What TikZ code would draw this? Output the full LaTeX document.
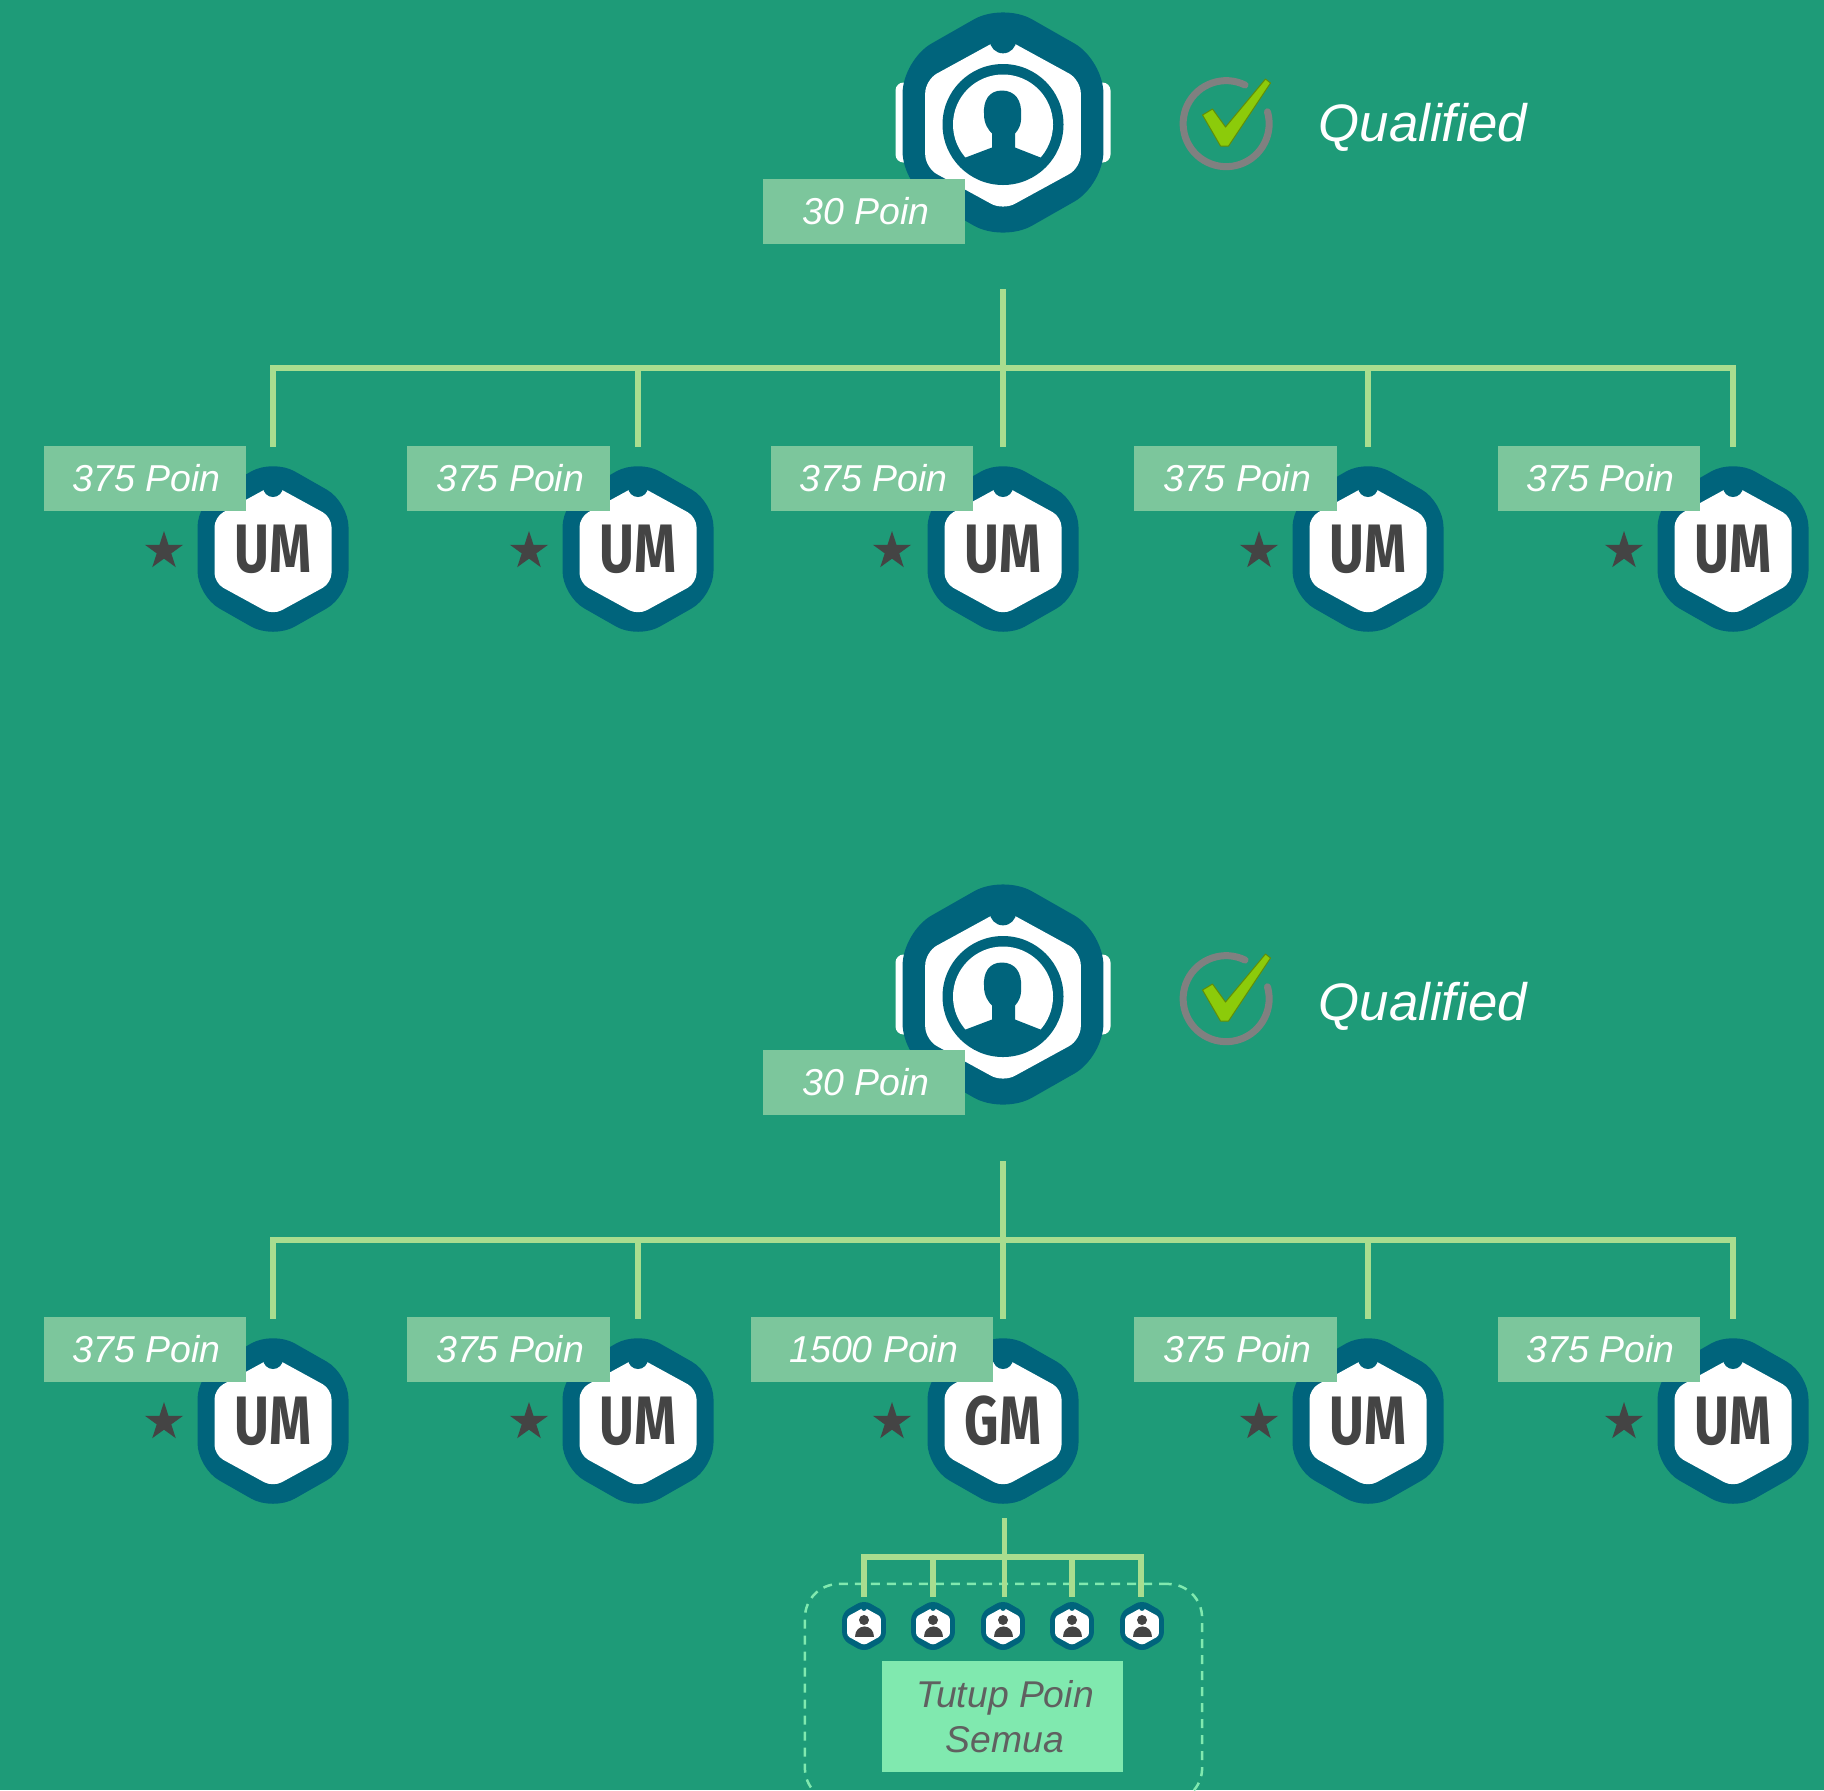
\documentclass[tikz,border=0pt]{standalone}
\usepackage{fontspec}
\setmainfont{Liberation Sans}
\newfontfamily\badgefont{Fira Sans}
\usetikzlibrary{shapes.geometric,positioning,calc}
\definecolor{bgteal}{HTML}{1E9B78}
\definecolor{hexteal}{HTML}{00647C}
\definecolor{poingreen}{HTML}{7CC69C}
\definecolor{tutupgreen}{HTML}{80E9AF}
\definecolor{linegreen}{HTML}{A9DD8F}
\definecolor{darkgrey}{HTML}{444444}
\definecolor{tickgreen}{HTML}{8CCB0A}
\begin{document}
\begin{tikzpicture}
	[ x=0.01cm, y=-0.01cm,
	  conn/.style={ draw=linegreen, line width=0.052cm },
	  poin/.style={ fill=poingreen, text=white, inner sep=0pt, minimum width=2.02cm, minimum height=0.65cm,
	  execute at begin node=\hspace*{0.035cm},
	  font=\fontsize{10.65}{13}\selectfont\itshape },
	  qual/.style={ text=white, inner sep=0pt, anchor=base west, font=\fontsize{15}{18}\selectfont\itshape },
	  rank/.style={ text=darkgrey, inner sep=0pt, xscale=0.78, transform shape, font=\fontsize{19.5}{20}\badgefont\bfseries },
	  starmark/.style={ star, star points=5, star point ratio=2.618, fill=darkgrey, inner sep=0pt, minimum size=0.4cm },
	  pics/badge/.style={ code={
		\begin{scope}[scale=#1]
		\fill[hexteal, rounded corners=#1*0.25cm] (0,-90) -- (75.5,-47) -- (75.5,47) -- (0,90) -- (-75.5,47) -- (-75.5,-47) -- cycle;
		\fill[white, rounded corners=#1*0.1cm] (0,-64) -- (58.5,-32) -- (58.5,34) -- (0,66) -- (-58.5,34) -- (-58.5,-32) -- cycle;
		\fill[hexteal] (0,-62) circle (10);
		\end{scope}
	  }},
	  pics/bossbadge/.style={ code={
		\fill[white, rounded corners=0.08cm] (-107.5,-40) rectangle (107.5,40);
		\pic {badge=1.33};
		\fill[hexteal] (0,2) circle (60.5);
		\fill[white] (0,2) circle (50);
		\fill[hexteal] (-1,-32) .. controls (-14,-32) and (-20,-22) .. (-19,-8) .. controls (-19,2) and (-14,8) .. (-11,11)
			-- (12,11) .. controls (15,8) and (19,2) .. (18,-8) .. controls (19,-22) and (12,-32) .. (-1,-32) -- cycle;
		\fill[hexteal] (-40,36) -- (-11,25) -- (-11,5) -- (12,5) -- (12,25) -- (40,36) -- (36,50) -- (0,58) -- (-36,50) -- cycle;
	  }},
	  pics/tinybadge/.style={ code={
		\pic {badge=0.29};
		\fill[darkgrey] (0,-6) circle (5);
		\fill[darkgrey] (-9.5,11) .. controls (-9.5,-3) and (9.5,-3) .. (9.5,11) -- cycle;
	  }},
	  pics/qualmark/.style={ code={
		\draw[gray, line width=0.07cm, line cap=round] (18.5,-38) arc (-64:-376:43);
		\fill[tickgreen, draw=tickgreen!70!black, line width=0.01cm, line join=round] (-24,-8) -- (-14,-14) -- (-1,4) -- (39,-44) -- (44,-40) -- (2,23) -- (-6,23) -- cycle;
	  }}
	]
	\clip (0,0) rectangle (1824,1790);
	\fill[bgteal] (0,0) rectangle (1824,1790);

	% both trees
	\foreach \g/\dy/\dl/\dm/\dq in {a/0/0/0/0,b/872/871/875/879}{
		\pic (boss\g) at (1003,122.5+\dy) {bossbadge};
		\pic (mark\g) at (1226.5,123+\dm) {qualmark};
		\node[qual] (qual\g) at (1318,141.5+\dq) {Qualified};
		\node[poin] (bossp\g) at (864,211.5+\dl) {30 Poin};

		\coordinate (root\g) at (1003,289+\dy);
		\coordinate (bus\g) at (1003,368+\dy);
		\coordinate (drop\g3) at (1003,447+\dy);
		\draw[conn] (root\g) -- (drop\g3);
		\foreach \c/\xc/\xp in {1/273/145,2/638/508.5,4/1368/1235.5,5/1733/1599}{
			\coordinate (drop\g\c) at (\xc,447+\dy);
			\draw[conn] (bus\g) -| (drop\g\c);
			\pic (hex\g\c) at (\xc,549+\dy) {badge=1};
			\node[rank] (rank\g\c) at (\xc,549+\dy) {UM};
			\node[starmark] (star\g\c) at (\xc-109,551+\dl) {};
			\node[poin] (poin\g\c) at (\xp,478.5+\dl) {375 Poin};
		}
		\pic (hex\g3) at (1003,549+\dy) {badge=1};
		\node[starmark] (star\g3) at (892,551+\dl) {};
	}
	\node[rank] (ranka3) at (1003,549) {UM};
	\node[poin] (poina3) at (872,478.5) {375 Poin};
	\node[rank] (rankb3) at (1003,1421) {GM};
	\node[poin, minimum width=2.41cm] (poinb3) at (872,1349.5) {1500 Poin};

	% group under GM
	\node[draw=tutupgreen, dashed, dash pattern=on 0.09cm off 0.07cm, line width=0.025cm, rounded corners=0.34cm,
		minimum width=3.97cm, minimum height=2.18cm, inner sep=0pt] (closebox) at (1003.5,1693) {};
	\coordinate (rootc) at (1004.5,1518);
	\coordinate (busc) at (1004.5,1557);
	\coordinate (dropc3) at (1004.5,1597);
	\draw[conn] (rootc) -- (dropc3);
	\foreach \c/\xc in {1/864,2/933,4/1072,5/1141}{
		\coordinate (dropc\c) at (\xc,1597);
		\draw[conn] (busc) -| (dropc\c);
	}
	\foreach \c/\xc in {1/864,2/933,3/1003,4/1072,5/1142}{
		\pic (tiny\c) at (\xc,1626) {tinybadge};
	}
	\node[fill=tutupgreen, text=darkgrey!85!white, inner sep=0pt, minimum width=2.41cm, minimum height=1.11cm, align=center,
		font=\fontsize{10.6}{12.8}\selectfont\itshape] (tutup) at (1002.5,1716.5) {\hspace*{0.05cm}Tutup Poin\\\hspace*{0.05cm}Semua};
\end{tikzpicture}
\end{document}
